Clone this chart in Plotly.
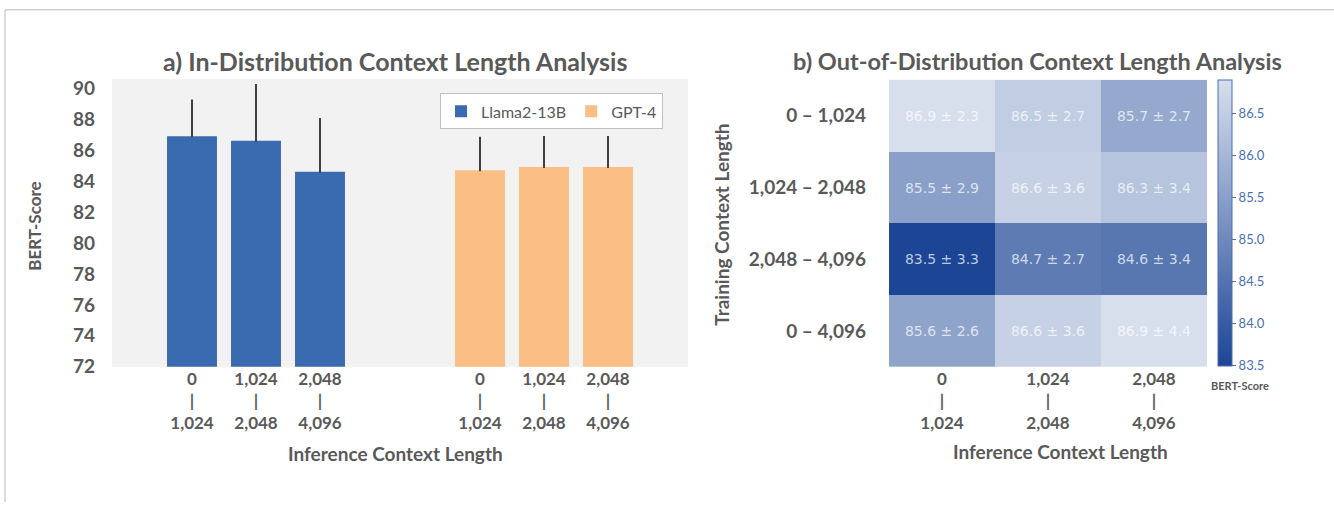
import plotly.graph_objects as go

W, H = 1334, 513

# ---------------- data ----------------
bar_positions = [0, 1, 2]
gpt_positions = [4.5, 5.5, 6.5]
inference_ticks = ["0<br>|<br>1,024", "1,024<br>|<br>2,048", "2,048<br>|<br>4,096"]
llama_scores = [86.9, 86.6, 84.6]
llama_err = [2.3, 3.6, 3.4]
gpt_scores = [84.7, 84.9, 84.9]
gpt_err = [2.1, 1.95, 1.95]

train_labels = ["0 – 1,024", "1,024 – 2,048", "2,048 – 4,096", "0 – 4,096"]
heat_scores = [
    [86.9, 86.5, 85.7],
    [85.5, 86.6, 86.3],
    [83.5, 84.7, 84.6],
    [85.6, 86.6, 86.9],
]
heat_err = [
    [2.3, 2.7, 2.7],
    [2.9, 3.6, 3.4],
    [3.3, 2.7, 3.4],
    [2.6, 3.6, 4.4],
]
y_ticks = [72, 74, 76, 78, 80, 82, 84, 86, 88, 90]
cbar_ticks = [83.5, 84.0, 84.5, 85.0, 85.5, 86.0, 86.5]

# ---------------- style ----------------
FONT = "Lato"
GREY = "#595959"
BLUE = "#3A6AAF"
ORANGE = "#FBBE85"
CB_BLUE = "#4A6FB8"


def px_x(p):
    return p / W


def px_y(p):
    return 1 - p / H


fig = go.Figure()

fig.add_trace(go.Bar(
    x=bar_positions, y=llama_scores, name="Llama2-13B",
    marker=dict(color=BLUE, line=dict(width=0)), width=0.78,
    error_y=dict(type="data", symmetric=False, array=llama_err,
                 arrayminus=[0] * len(llama_err), color="#404040",
                 thickness=2, width=1),
    xaxis="x", yaxis="y",
))
fig.add_trace(go.Bar(
    x=gpt_positions, y=gpt_scores, name="GPT-4",
    marker=dict(color=ORANGE, line=dict(width=0)), width=0.78,
    error_y=dict(type="data", symmetric=False, array=gpt_err,
                 arrayminus=[0] * len(gpt_err), color="#404040",
                 thickness=2, width=1),
    xaxis="x", yaxis="y",
))

cell_text = [[f"{v:.1f} ± {e:.1f}" for v, e in zip(rv, re)]
             for rv, re in zip(heat_scores, heat_err)]

fig.add_trace(go.Heatmap(
    z=heat_scores, x=inference_ticks, y=train_labels,
    text=cell_text, texttemplate="%{text}",
    textfont=dict(family="DejaVu Sans", size=14, color="rgba(255,255,255,0.72)"),
    colorscale=[[0, "#1C4595"], [1, "#D7DFED"]],
    zmin=83.5, zmax=86.9, xgap=0, ygap=0,
    showscale=True,
    colorbar=dict(
        x=px_x(1218), xanchor="left", xpad=0,
        y=px_y((82.7 + 369) / 2), yanchor="middle", ypad=0,
        thickness=14, thicknessmode="pixels",
        len=286, lenmode="pixels",
        outlinecolor=CB_BLUE, outlinewidth=1,
        tickvals=cbar_ticks, ticktext=[f"{t:.1f}" for t in cbar_ticks],
        ticks="outside", ticklen=4, tickcolor=CB_BLUE, tickwidth=1,
        tickfont=dict(family=FONT, size=13, color=CB_BLUE),
    ),
    xaxis="x2", yaxis="y2", hoverinfo="skip",
))

fig.update_layout(
    width=W, height=H, autosize=False,
    margin=dict(l=0, r=0, t=0, b=0),
    paper_bgcolor="white",
    plot_bgcolor="#F2F2F2",
    font=dict(family=FONT, color=GREY),
    showlegend=True,
    legend=dict(
        orientation="h", x=px_x(440), y=px_y(93), xanchor="left", yanchor="top",
        bgcolor="white", bordercolor="#BFBFBF", borderwidth=1,
        font=dict(family=FONT, size=16, color=GREY),
        itemwidth=30, tracegroupgap=0,
    ),
    xaxis=dict(
        domain=[px_x(112), px_x(688)], anchor="y",
        range=[-1.25, 7.75], tickvals=bar_positions + gpt_positions,
        ticktext=inference_ticks + inference_ticks,
        showgrid=False, zeroline=False, showline=False, ticks="",
        tickfont=dict(family=FONT, size=17, color=GREY, weight="bold"),
    ),
    yaxis=dict(
        domain=[px_y(374), px_y(78)], anchor="x",
        range=[72, 90.6], tickvals=y_ticks,
        showgrid=False, zeroline=False, showline=False, ticks="",
        ticklabelstandoff=16,
        tickfont=dict(family=FONT, size=19, color=GREY, weight="bold"),
    ),
    xaxis2=dict(
        domain=[px_x(889), px_x(1207)], anchor="y2",
        showgrid=False, zeroline=False, showline=False, ticks="",
        tickfont=dict(family=FONT, size=17, color=GREY, weight="bold"),
    ),
    yaxis2=dict(
        domain=[px_y(374), px_y(79)], anchor="x2",
        autorange="reversed",
        showgrid=False, zeroline=False, showline=False, ticks="",
        ticklabelstandoff=22,
        tickfont=dict(family=FONT, size=19, color=GREY, weight="bold"),
    ),
)

annotations = [
    dict(text="a) In-Distribution Context Length Analysis", x=px_x(395), y=px_y(60),
         font=dict(size=25, weight="bold")),
    dict(text="b) Out-of-Distribution Context Length Analysis", x=px_x(1037), y=px_y(60),
         font=dict(size=23.5, weight="bold")),
    dict(text="BERT-Score", x=px_x(35), y=px_y(230), textangle=-90,
         font=dict(size=17, weight="bold")),
    dict(text="Inference Context Length", x=px_x(395), y=px_y(463),
         font=dict(size=19, weight="bold")),
    dict(text="Training Context Length", x=px_x(722), y=px_y(228), textangle=-90,
         font=dict(size=19, weight="bold")),
    dict(text="Inference Context Length", x=px_x(1060), y=px_y(461),
         font=dict(size=19, weight="bold")),
    dict(text="BERT-Score", x=px_x(1240), y=px_y(393),
         font=dict(size=11, weight="bold")),
]
for a in annotations:
    a.update(xref="paper", yref="paper", showarrow=False,
             xanchor="center", yanchor="middle")
    a["font"].update(family=FONT, color=GREY)
fig.update_layout(annotations=annotations)

fig.add_shape(type="line", xref="paper", yref="paper",
              x0=px_x(5), x1=1, y0=px_y(7), y1=px_y(7),
              line=dict(color="#D0D0D0", width=1.5))
fig.add_shape(type="line", xref="paper", yref="paper",
              x0=px_x(5), x1=px_x(5), y0=0, y1=px_y(7),
              line=dict(color="#D0D0D0", width=1.5))

fig.write_html(
    "out.html",
    config={"displayModeBar": False, "responsive": False},
    post_script="document.body.style.margin='0';document.body.style.padding='0';"
                "document.body.style.overflow='hidden';",
)
